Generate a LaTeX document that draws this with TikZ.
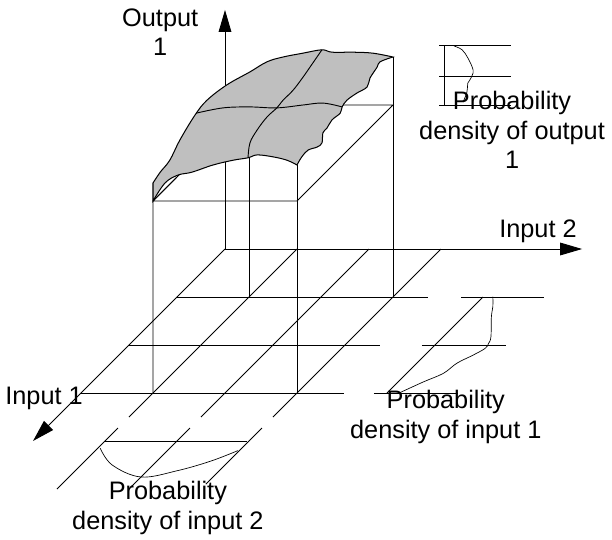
\documentclass[tikz,border=0pt]{standalone}
\usepackage{fontspec}
\setmainfont{Liberation Sans}
\usetikzlibrary{arrows.meta}

\begin{document}
\begin{tikzpicture}[>={Triangle[length=13pt,width=7.5pt]}, font=\fontsize{15}{17.5}\selectfont, line width=0.55pt,
		surf/.style={fill=black!25, draw=black, line width=0.6pt},
		lbl/.style={align=center, inner sep=0pt}]
		\useasboundingbox (-4.6875,-6.0625) rectangle (8.0625,5.1875);
		\coordinate (O) at (0,0);
		% floor grid, lines along input 2
		\draw (-1,-1) -- (4.23,-1);
		\draw (-2,-2) -- (3.23,-2);
		\draw (-3,-3) -- (2.48,-3);
		% floor grid, lines along input 1
		\draw (1.5,0) -- (-2,-3.5);
		\draw (3,0) -- (-0.5,-3.5);
		\draw (4.5,0) -- (1,-3.5);
		% density of input 1
		\draw (4.92,-1) -- (6.65,-1);
		\draw (4.1,-2) -- (5.85,-2);
		\draw (3.1,-3) -- (4.85,-3);
		\draw (5.375,-1) -- (3.375,-3);
		\draw[thin] plot[smooth, tension=0.6] coordinates {(5.58,-0.99) (5.58,-1.2) (5.55,-1.41) (5.54,-1.83) (5.49,-1.97) (5.42,-2.07) (5.17,-2.21) (4.83,-2.38) (4.55,-2.59) (4.13,-2.77) (3.65,-2.99)};
		% density of input 2
		\draw (-2.23,-3.73) -- (-3.5,-5);
		\draw (-0.73,-3.73) -- (-2,-5);
		\draw (0.77,-3.73) -- (-0.4,-4.9);
		\draw (-2.5,-4) -- (0.46,-4);
		\draw[thin] plot[smooth, tension=0.6] coordinates {(-2.6,-4.15) (-2.35,-4.5) (-1.75,-4.75) (-1.0,-4.62) (-0.3,-4.42) (0.27,-4.2)};
		% box under the surface
		\draw (-1.5,-3) -- (-1.5,1) -- (1.5,1) -- (3.5,3) -- (0.5,3) -- (-1.5,1);
		\draw (1.5,-3) -- (1.5,1.75);
		\draw (3.5,-1) -- (3.5,4);
		\draw (0.5,-1) -- (0.5,3);
		% axes
		\draw[->] (O) -- (0,4.98);
		\draw[->] (O) -- (7.44,0);
		\draw[->] (O) -- (-4,-4);
		% output surface
		\filldraw[surf] (-1.5,1) -- (-1.5,1.375)
			-- plot[smooth, tension=0.6] coordinates {(-1.5,1.375) (-1.35,1.6) (-1.15,1.85) (-0.94,2.27) (-0.625,2.79) (-0.375,3.1) (0.04,3.42) (0.52,3.69) (0.875,3.9) (1.21,4.0) (1.625,4.08) (2.02,4.15) (2.23,4.1) (2.67,4.1) (3.08,4.08) (3.5,4)}
			-- plot[smooth, tension=0.6] coordinates {(3.5,4) (3.23,3.9) (3.17,3.79) (3.02,3.56) (2.96,3.375) (2.75,3.25) (2.54,3.1) (2.44,2.96) (2.4,2.83) (2.23,2.69) (2.125,2.52) (2.04,2.42) (2.02,2.21) (1.92,2.125) (1.73,2.06) (1.6,1.92) (1.5,1.75)}
			-- plot[smooth, tension=0.6] coordinates {(1.5,1.75) (1.29,1.85) (1.0,1.92) (0.67,1.96) (0.48,1.9) (0.17,1.85) (-0.25,1.75) (-0.69,1.6) (-0.98,1.54) (-1.25,1.375) (-1.5,1)} -- cycle;
		\draw plot[smooth, tension=0.6] coordinates {(-0.6,2.83) (-0.04,2.94) (0.52,2.96) (1.08,2.94) (1.625,3.0) (2.04,3.04) (2.44,2.96)};
		\draw plot[smooth, tension=0.6] coordinates {(2.02,4.15) (1.83,3.875) (1.625,3.58) (1.42,3.31) (1.21,3.1) (1.08,2.94) (0.875,2.75) (0.67,2.48) (0.52,2.21) (0.48,1.9)};
		\draw (-1.5,1) -- (-1.02,1.48);
		% density of output 1
		\draw (4.46,4.23) -- (5.96,4.23);
		\draw (4.46,3.6) -- (5.96,3.6);
		\draw (4.46,2.98) -- (5.96,2.98);
		\draw (4.58,4.23) -- (4.58,2.98);
		\draw[thin] plot[smooth, tension=0.6] coordinates {(4.77,4.23) (4.94,4.15) (5.06,3.98) (5.15,3.79) (5.17,3.67) (5.1,3.52) (5.06,3.46) (5.04,3.27) (4.96,3.06)};
		% labels
		\node[lbl] (out) at (-1.35,4.52) {Output\\1};
		\node[lbl] (in2) at (6.52,0.375) {Input 2};
		\node[lbl] (in1) at (-3.77,-3.12) {Input 1};
		\node[lbl] (pout) at (5.98,2.48) {Probability\\density of output\\1};
		\node[lbl] (pin1) at (4.6,-3.5) {Probability\\density of input 1};
		\node[lbl] (pin2) at (-1.19,-5.4) {Probability\\density of input 2};
	\end{tikzpicture}
\end{document}
